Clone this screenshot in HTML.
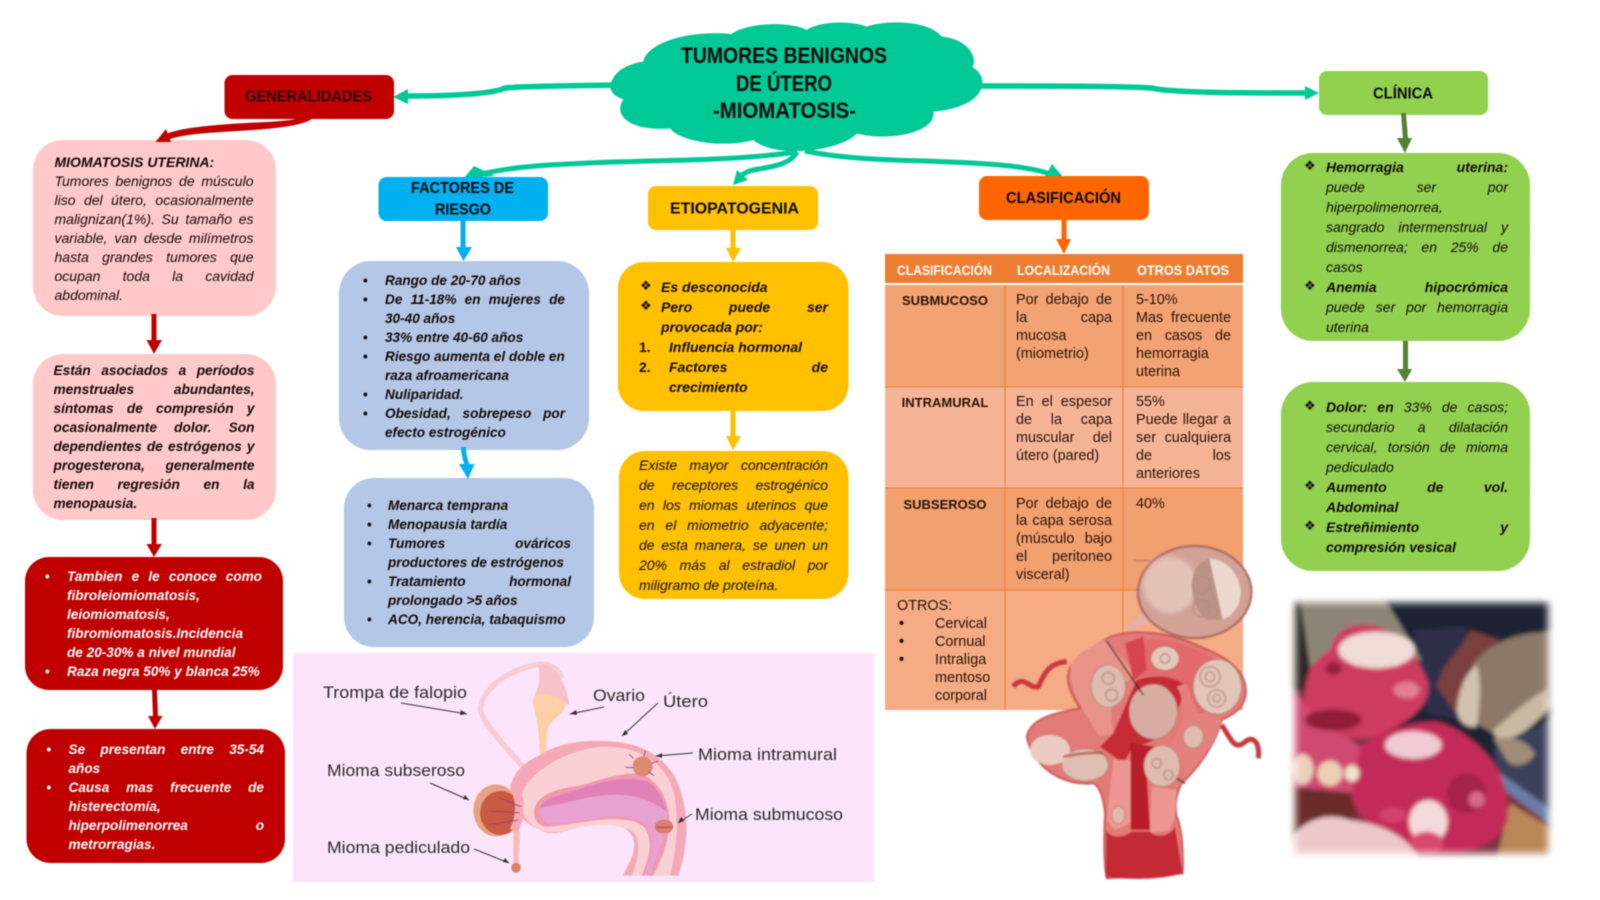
<!DOCTYPE html>
<html lang="es"><head><meta charset="utf-8"><title>Tumores benignos de útero</title>
<style>
html,body{margin:0;padding:0;background:#fff}
#page{position:relative;width:1600px;height:900px;overflow:hidden;background:#fff;font-family:"Liberation Sans",sans-serif;filter:blur(.45px)}
svg.base{position:absolute;left:0;top:0}
svg text{font-family:"Liberation Sans",sans-serif}
.t{position:absolute;font-size:14px;color:#140c08}
.t p{margin:0;white-space:nowrap;position:relative}
.t p.j{text-align:justify;text-align-last:justify}
.bi{font-weight:bold;font-style:italic}
.it{font-style:italic}
.k{position:absolute;font-style:normal;font-weight:bold}
.d{font-family:"DejaVu Sans",sans-serif;font-size:13px;font-style:normal;font-weight:normal}
.w{color:#fff}
.tb{font-size:14.4px;line-height:17.9px;color:#2a1408}
.tb b{font-weight:bold;font-size:13px}
</style></head><body><div id="page">
<svg class="base" width="1600" height="900" viewBox="0 0 1600 900" xmlns="http://www.w3.org/2000/svg">
<defs>
<filter id="b1" x="-10%" y="-10%" width="120%" height="120%"><feGaussianBlur stdDeviation="2.500"/></filter>
<filter id="b4" x="-10%" y="-10%" width="120%" height="120%"><feGaussianBlur stdDeviation="6"/></filter>
<filter id="b5" x="-40%" y="-40%" width="180%" height="180%"><feGaussianBlur stdDeviation="22"/></filter>
<filter id="b2" x="-20%" y="-20%" width="140%" height="140%"><feGaussianBlur stdDeviation="12"/></filter>
<mask id="fe" maskUnits="userSpaceOnUse" x="0" y="0" width="900" height="900"><rect x="46" y="38" width="758" height="752" fill="#fff" filter="url(#b2)"/></mask>
</defs>

<!-- panel -->
<rect x="293" y="653" width="581" height="229" fill="#fce5fb"/>

<!-- teal connectors -->
<g fill="none" stroke="#00c896" stroke-width="5.500">
<path d="M615 85 C560 86 520 86 505 88 C490 95 440 96 405 96"/>
<path d="M980 86 C1050 86 1120 86 1152 88 C1170 93 1250 93 1308 93"/>
<path d="M797 152 C740 160 680 160 612 162 C560 164 510 166 478 175" stroke-width="5"/>
<path d="M797 152 C790 165 770 167 753 170 C745 172 740 176 737 180" stroke-width="5"/>
<path d="M805 151 C840 158 880 160 927 161 C980 163 1025 165 1050 174" stroke-width="5"/>
</g>
<g fill="#00c896">
<path d="M393 97 L408 89 L408 104Z"/>
<path d="M1319 93 L1305 86 L1305 100Z"/>
<path d="M464 178 L474 166 L495 176Z"/>
<path d="M733 185 L737 170 L748 180Z"/>
<path d="M1052 164 L1063 177 L1045 177Z"/>
</g>

<!-- cloud -->
<g transform="translate(600,10) scale(.33333)">
<path fill="#00c896" d="M32 225 C40 180 90 160 130 155 C140 100 260 60 395 72 C440 38 570 32 620 60 C660 32 760 32 800 50 C860 28 990 32 1025 80 C1090 85 1135 130 1118 172 C1170 200 1165 290 1000 305 C1010 370 860 395 770 370 C730 420 530 450 460 390 C370 415 240 395 210 355 C100 365 35 320 70 268 C45 260 28 245 32 225Z"/>
</g>

<!-- boxes -->
<rect x="224.500" y="75" width="169.500" height="44" rx="8" fill="#c00000"/>
<rect x="378.500" y="177" width="169.500" height="44" rx="8" fill="#00b0f0"/>
<rect x="648" y="186" width="170" height="44" rx="8" fill="#ffc000"/>
<rect x="979" y="176" width="170" height="44" rx="8" fill="#ff6600"/>
<rect x="1319" y="71" width="169" height="44" rx="8" fill="#92d050"/>

<rect x="33" y="140" width="243" height="176" rx="30" fill="#ffc9c9"/>
<rect x="33" y="354" width="243" height="166" rx="30" fill="#ffc9c9"/>
<rect x="25" y="557" width="258" height="133" rx="24" fill="#c00000"/>
<rect x="26.500" y="729" width="258.500" height="134" rx="24" fill="#c00000"/>
<rect x="339" y="261" width="250" height="189" rx="32" fill="#b4c7e7"/>
<rect x="344" y="478" width="250" height="169" rx="30" fill="#b4c7e7"/>
<rect x="618" y="262" width="230.500" height="149" rx="26" fill="#ffc000"/>
<rect x="619" y="451" width="229.500" height="148" rx="26" fill="#ffc000"/>
<rect x="1281" y="153" width="249" height="188" rx="32" fill="#92d050"/>
<rect x="1281" y="382" width="249" height="189" rx="32" fill="#92d050"/>

<!-- connectors coloured -->
<path d="M296 119 L312 119 C295 130 240 130 196 134 C180 136 172 138 165 141 L160 137 C172 130 190 127 230 124 C260 122 280 122 296 119Z" fill="#c00000"/>
<path d="M155.500 142 L166 129 L171 142Z" fill="#c00000"/>
<g fill="#c00000">
<rect x="151.500" y="314" width="5" height="27"/><path d="M146.500 340 L162 340 L154 354Z"/>
<rect x="151.500" y="518" width="5" height="27"/><path d="M146.500 544 L162 544 L154 557Z"/>
<path d="M152 690 L157 690 L158 717 L153 717Z"/><path d="M148 716 L162.500 716 L155 729Z"/>
</g>
<g fill="#00b0f0">
<rect x="460.500" y="221" width="5" height="27"/><path d="M456 247 L472 247 L463.500 261Z"/>
<path d="M461 447 L466 447 C466 455 468 460 470 466 L465 466 C463 460 461 455 461 447Z"/><path d="M459 464 L474.500 464 L468 479Z"/>
</g>
<g fill="#ffc000">
<rect x="730.500" y="230" width="5" height="19"/><path d="M726 248 L741 248 L733 262Z"/>
<rect x="730.500" y="411" width="5" height="26"/><path d="M726 436 L741 436 L733 450Z"/>
</g>
<g fill="#ff6600"><rect x="1061.500" y="220" width="5" height="20"/><path d="M1056 239 L1071 239 L1064 254Z"/></g>
<g fill="#548235">
<path d="M1401 113 L1406 113 L1408 139 L1403 139Z"/><path d="M1397 138 L1412 138 L1405 153Z"/>
<rect x="1403" y="341" width="5" height="29"/><path d="M1397 369 L1412 369 L1405 382Z"/>
</g>

<!-- table -->
<rect x="885" y="254" width="358" height="29" fill="#ed7d31"/>
<rect x="885" y="285" width="358" height="102" fill="#f3a273"/>
<rect x="885" y="387" width="358" height="101" fill="#f6b497"/>
<rect x="885" y="488" width="358" height="102" fill="#f3a06f"/>
<rect x="885" y="590" width="358" height="120" fill="#f5ab84"/>
<g stroke="#ed7d31" stroke-width="1" fill="none">
<path d="M1005 285V710M1123 285V710M885 387H1243M885 488H1243M885 590H1243"/>
</g>

<!-- uterus illustration -->
<g transform="translate(460,655) scale(.33333)">
<path d="M200 350 C140 275 70 210 62 165 C60 110 140 40 240 28 C270 28 295 40 305 70" fill="none" stroke="#f8ccd3" stroke-width="17"/>
<path d="M235 28 C280 20 320 80 328 150 L222 125 C240 90 240 60 235 28Z" fill="#f6c3ca"/>
<path d="M222 125 C250 105 300 120 316 150 C310 185 270 190 262 225 L258 300 L240 300 L234 215 C230 180 215 150 222 125Z" fill="#fccfa6"/>
<path d="M150 395 C165 345 195 320 240 300 C290 265 370 255 430 258 C540 258 640 310 665 420 C690 500 680 590 655 662 L488 662 C510 620 530 590 520 550 C505 510 450 500 380 510 C330 520 290 545 250 530 C200 510 170 480 160 440Z" fill="#f4aab6"/>
<path d="M185 420 C210 340 340 280 430 275 C540 272 630 330 645 430 C655 500 650 590 630 662 L515 662 C535 610 540 580 530 545 C510 510 440 505 370 515 C320 525 270 545 230 520 C195 500 175 460 185 420Z" fill="#fad0d5"/>
<path d="M222 470 C225 430 270 405 340 395 C400 385 460 355 530 355 C590 365 625 430 628 490 C630 560 600 620 580 662 L545 662 C570 600 580 560 555 520 C530 490 470 490 410 495 C340 505 290 515 255 515 C235 510 222 495 222 470Z" fill="#f09aae"/>
<path d="M240 458 C250 425 330 415 380 395 C440 375 510 365 560 378 C590 395 610 430 620 470 C570 430 510 415 440 420 C370 425 300 450 240 458Z" fill="#e082b8"/>
<path d="M240 460 C300 452 370 425 440 420 C510 415 570 430 620 470 C622 540 590 610 565 662 L550 662 C575 600 590 560 560 515 C530 480 470 480 400 490 C340 500 290 510 262 505 C245 495 236 480 240 460Z" fill="#e8a2d2"/>
<ellipse cx="108" cy="466" rx="68" ry="78" fill="#e8a284"/>
<ellipse cx="122" cy="474" rx="62" ry="66" fill="#c95b42"/>
<path d="M180 400 C195 440 195 490 175 530 L165 540 L150 520 C170 480 170 440 150 400Z" fill="#f4aab6"/>
<circle cx="548" cy="334" r="30" fill="#dd8a6e"/>
<ellipse cx="612" cy="515" rx="28" ry="21" fill="#d9806a"/>
<path d="M160 530 L180 530 L176 620 C190 640 180 655 168 655 C155 655 148 640 160 620Z" fill="#f5bcbc"/>
<circle cx="168" cy="638" r="14" fill="#d9806a"/>
<g stroke="#a03080" stroke-width="2.500" fill="none">
<path d="M182 455 L118 428M178 473 L85 468M175 495 L85 510M520 310 L508 298M552 305 L556 286M575 325 L594 318M520 338 L497 337M565 350 L582 362M590 517 L636 517"/>
</g>
</g>

<!-- label arrows -->
<g stroke="#333" stroke-width="1" fill="none">
<path d="M401 703 L467 714M604 707 L570 714M658 703 L622 736M693 753 L656 756M430 783 L469 800M474 849 L509 863M692 814 L678 823"/>
</g>
<g fill="#333">
<path d="M467 714 L461 710 L460 715Z"/><path d="M570 714 L576 710 L577 715Z"/><path d="M622 736 L625 730 L628 734Z"/>
<path d="M656 756 L662 753 L662 758Z"/><path d="M469 800 L463 799 L465 795Z"/><path d="M509 863 L503 862 L505 858Z"/><path d="M678 823 L681 817 L684 821Z"/>
</g>

<!-- fibroid illustration -->
<g transform="translate(1000,530) scale(.33333)" filter="url(#b1)">
<path d="M400 92 H450" stroke="#a07060" stroke-width="3"/>
<path d="M40 470 C70 430 90 480 115 470 C130 440 140 400 200 395" fill="none" stroke="#c8383e" stroke-width="15"/>
<path d="M665 585 C690 620 700 660 730 640 C760 610 780 640 775 685" fill="none" stroke="#c8383e" stroke-width="15"/>
<path d="M370 300 C410 265 430 240 470 230 L490 290 C450 270 420 290 395 300Z" fill="#e8b0a5"/>
<path d="M320 325 C400 290 520 310 600 350 C680 380 735 420 738 480 C740 530 700 555 665 570 C650 640 590 720 545 760 C525 800 525 830 530 860 C550 900 550 1000 548 1030 L320 1045 C310 1000 312 900 315 850 C310 800 300 770 280 760 C200 770 100 720 80 620 C90 570 150 550 240 535 C200 470 180 420 250 370Z" fill="#e27a78" stroke="#c4504e" stroke-width="5"/>
<path d="M320 325 C280 345 240 375 215 395 C200 450 230 520 300 620 L340 610 C320 530 350 450 420 440 C380 400 340 360 320 325Z" fill="#e99488"/>
<path d="M375 340 C400 320 520 320 600 365 C660 390 690 420 700 440 L600 560 L560 470 C520 440 470 430 430 440 L400 450Z" fill="#e2696c"/>
<path d="M375 340 L430 320 L440 420 L400 450Z" fill="#d6444f"/>
<path d="M410 450 C470 430 530 440 560 470 C530 540 520 610 440 640 L400 650 L370 700 L300 650 L340 610Z" fill="#c62a36"/>
<path d="M530 470 C560 520 560 600 500 650 C540 680 560 710 545 755 C600 700 650 640 665 570 L590 545 L560 460Z" fill="#e5807f"/>
<path d="M340 690 L395 690 L392 880 L345 900 L320 870Z" fill="#ee9693"/>
<path d="M455 770 L530 780 L525 860 L510 900 L450 910Z" fill="#ee9693"/>
<path d="M392 640 L470 650 L440 730 L450 900 L392 900Z" fill="#b91c2a"/>
<path d="M318 900 C330 925 370 925 395 905 L450 905 C470 925 510 920 525 890 L548 1030 C480 1050 380 1050 318 1040Z" fill="#c42a35"/>
<ellipse cx="584" cy="186" rx="170" ry="138" fill="#d3a297" stroke="#a96c60" stroke-width="7"/>
<ellipse cx="510" cy="165" rx="80" ry="85" fill="#e3c2b8" filter="url(#b4)"/>
<path d="M628 85 C690 90 735 150 718 215 C710 240 690 262 668 268 C650 200 640 140 628 85Z" fill="#ecd8cd"/>
<path d="M600 100 L628 85 L668 268 L620 270 C570 225 560 140 600 100Z" fill="#bb9386"/>
<g fill="#dfbcae" stroke="#b88a7a" stroke-width="3">
<ellipse cx="325" cy="468" rx="52" ry="64"/>
<ellipse cx="495" cy="385" rx="42" ry="36" fill="#e6c8bb"/>
<ellipse cx="652" cy="470" rx="72" ry="82" fill="#e2c6b8"/>
<ellipse cx="460" cy="545" rx="72" ry="82" fill="#d8aea3"/>
<ellipse cx="580" cy="620" rx="30" ry="34"/>
<ellipse cx="486" cy="708" rx="54" ry="62"/>
<ellipse cx="255" cy="705" rx="70" ry="48" fill="#e0beb2"/>
<ellipse cx="150" cy="660" rx="60" ry="45" fill="#ecccc2" stroke="none"/>
<ellipse cx="355" cy="855" rx="20" ry="26"/>
</g>
<g fill="none" stroke="#b58a7c" stroke-width="5" opacity=".75">
<circle cx="630" cy="440" r="30"/><circle cx="630" cy="440" r="14"/><circle cx="650" cy="505" r="26"/><circle cx="650" cy="505" r="11"/>
<circle cx="325" cy="445" r="18"/><circle cx="335" cy="495" r="18"/><circle cx="605" cy="165" r="26"/><circle cx="605" cy="235" r="26"/>
<circle cx="470" cy="700" r="14"/><circle cx="505" cy="735" r="14"/><circle cx="495" cy="385" r="14"/>
<path d="M190 680 C240 670 280 665 310 670" stroke="#b0524c" stroke-width="8"/>
</g>
<path d="M318 330 L430 495M530 745 L555 760" stroke="#1c1010" stroke-width="4" fill="none"/>
</g>

<!-- photo -->
<g transform="translate(1280,590) scale(.33333)" mask="url(#fe)">
<g filter="url(#b4)">
<rect x="20" y="20" width="810" height="790" fill="#7a3040"/>
<rect x="300" y="20" width="530" height="560" fill="#1f2030"/>
<path d="M400 120 L560 110 L540 390 L440 370Z" fill="#2e2e48"/>
<rect x="20" y="20" width="70" height="280" fill="#2d2624"/>
<path d="M60 20 L310 20 L425 210 L90 230Z" fill="#8c8576"/>
<path d="M640 480 L830 380 L830 700 L660 560Z" fill="#3b3f5a"/>
<path d="M655 545 L830 670 L830 720 L680 605Z" fill="#6d7ca4"/>
<path d="M690 640 L830 725 L830 810 L650 810Z" fill="#b98659"/>
<path d="M470 290 C490 210 540 190 570 120 L660 150 L560 240 L530 370Z" fill="#7a3f3c"/>
<path d="M580 220 C640 150 720 125 830 125 L830 340 C760 370 700 400 640 430 L590 400Z" fill="#8b7869"/>
<path d="M530 360 C535 300 560 240 590 225 C605 270 600 340 590 410 C565 415 535 400 530 360Z" fill="#d2c1b0"/>
<path d="M640 420 C690 380 750 320 800 300 L810 350 C770 400 720 440 680 448 C655 448 640 440 640 420Z" fill="#c9b9a2"/>
<path d="M640 445 C690 440 730 440 765 490 C750 525 700 540 680 510Z" fill="#a08b79"/>
<path d="M20 290 L240 470 L230 620 L20 590Z" fill="#cf4a70"/>
<path d="M20 590 L230 610 L220 730 L20 730Z" fill="#6a2a2a"/>
<path d="M90 240 C110 200 150 180 150 180 C165 120 210 90 300 110 C370 140 425 220 445 280 C450 330 420 375 330 420 C290 440 260 448 240 445 C170 440 100 400 75 330 C72 290 80 260 90 240Z" fill="#cd3a60"/>
<ellipse cx="290" cy="180" rx="115" ry="55" fill="#f1dcd7"/>
<ellipse cx="160" cy="235" rx="25" ry="20" fill="#97243f"/>
<ellipse cx="160" cy="390" rx="85" ry="32" fill="#8f1e38"/>
<ellipse cx="380" cy="300" rx="40" ry="25" fill="#e27d92"/>
<path d="M240 470 C300 420 400 395 470 395 C550 415 630 490 660 550 C680 610 690 660 680 700 C650 770 540 800 440 795 C340 760 230 700 215 620Z" fill="#c42a58"/>
<ellipse cx="400" cy="465" rx="85" ry="42" fill="#f0cbd3"/>
<ellipse cx="560" cy="610" rx="60" ry="60" fill="#a52048"/>
<ellipse cx="590" cy="628" rx="24" ry="24" fill="#d96a8a"/>
<path d="M20 770 C50 700 130 660 210 690 C290 700 380 730 420 810 L20 810Z" fill="#edc8ca"/>
<ellipse cx="340" cy="675" rx="40" ry="22" fill="#d6436e"/>
<ellipse cx="445" cy="695" rx="58" ry="65" fill="#f5dadc"/>
<ellipse cx="440" cy="760" rx="50" ry="35" fill="#d84a6e"/>
<ellipse cx="68" cy="538" rx="32" ry="46" fill="#ecd0b8"/>
<ellipse cx="150" cy="550" rx="38" ry="38" fill="#eccfb4"/>
<ellipse cx="216" cy="550" rx="22" ry="25" fill="#efe2cf"/>
</g></g>

<!-- single-line labels -->
<g font-weight="bold" fill="#0c0c0c">
<text x="681" y="63" font-size="22" textLength="206" lengthAdjust="spacingAndGlyphs">TUMORES BENIGNOS</text>
<text x="736" y="91" font-size="22" textLength="96" lengthAdjust="spacingAndGlyphs">DE ÚTERO</text>
<text x="713" y="118" font-size="22" textLength="143" lengthAdjust="spacingAndGlyphs">-MIOMATOSIS-</text>
<text x="245" y="101.500" font-size="16" textLength="127" lengthAdjust="spacingAndGlyphs" fill="#2a0505">GENERALIDADES</text>
<text x="411" y="193" font-size="16" textLength="103" lengthAdjust="spacingAndGlyphs">FACTORES DE</text>
<text x="435" y="214.500" font-size="16" textLength="56" lengthAdjust="spacingAndGlyphs">RIESGO</text>
<text x="670" y="213.500" font-size="16" textLength="129" lengthAdjust="spacingAndGlyphs">ETIOPATOGENIA</text>
<text x="1006" y="203" font-size="16" textLength="115" lengthAdjust="spacingAndGlyphs">CLASIFICACIÓN</text>
<text x="1373" y="98.500" font-size="16" textLength="60" lengthAdjust="spacingAndGlyphs">CLÍNICA</text>
</g>
<g font-weight="bold" fill="#fff" font-size="13.500">
<text x="897" y="275" textLength="95" lengthAdjust="spacingAndGlyphs">CLASIFICACIÓN</text>
<text x="1017" y="275" textLength="93" lengthAdjust="spacingAndGlyphs">LOCALIZACIÓN</text>
<text x="1137" y="275" textLength="92" lengthAdjust="spacingAndGlyphs">OTROS DATOS</text>
</g>
<g fill="#2b2b2b" font-size="17">
<text x="323" y="698" textLength="144" lengthAdjust="spacingAndGlyphs">Trompa de falopio</text>
<text x="593" y="701" textLength="52" lengthAdjust="spacingAndGlyphs">Ovario</text>
<text x="663" y="707" textLength="45" lengthAdjust="spacingAndGlyphs">Útero</text>
<text x="698" y="760" textLength="139" lengthAdjust="spacingAndGlyphs">Mioma intramural</text>
<text x="327" y="776" textLength="138" lengthAdjust="spacingAndGlyphs">Mioma subseroso</text>
<text x="695" y="820" textLength="148" lengthAdjust="spacingAndGlyphs">Mioma submucoso</text>
<text x="327" y="853" textLength="143" lengthAdjust="spacingAndGlyphs">Mioma pediculado</text>
</g>
</svg>

<!-- pink -->
<div class="t it" style="left:54.500px;top:152.500px;width:199px;line-height:19px">
<p class="bi">MIOMATOSIS UTERINA:</p>
<p class="j">Tumores benignos de músculo</p>
<p class="j">liso del útero, ocasionalmente</p>
<p class="j">malignizan(1%). Su tamaño es</p>
<p class="j">variable, van desde milímetros</p>
<p class="j">hasta grandes tumores que</p>
<p class="j">ocupan toda la cavidad</p>
<p>abdominal.</p>
</div>
<div class="t bi" style="left:53.500px;top:361px;width:201px;line-height:19px;font-size:13.700px">
<p class="j">Están asociados a períodos</p>
<p class="j">menstruales abundantes,</p>
<p class="j">síntomas de compresión y</p>
<p class="j">ocasionalmente dolor. Son</p>
<p class="j">dependientes de estrógenos y</p>
<p class="j">progesterona, generalmente</p>
<p class="j">tienen regresión en la</p>
<p>menopausia.</p>
</div>

<!-- red -->
<div class="t bi w" style="left:67px;top:567px;width:195px;line-height:19px;font-size:13.600px">
<p class="j"><span class="k" style="left:-22px">•</span>Tambien e le conoce como</p>
<p>fibroleiomiomatosis,</p>
<p>leiomiomatosis,</p>
<p>fibromiomatosis.Incidencia</p>
<p>de 20-30% a nivel mundial</p>
<p><span class="k" style="left:-22px">•</span>Raza negra 50% y blanca 25%</p>
</div>
<div class="t bi w" style="left:68.500px;top:739.500px;width:195.500px;line-height:19px;font-size:13.600px">
<p class="j"><span class="k" style="left:-22px">•</span>Se presentan entre 35-54</p>
<p>años</p>
<p class="j"><span class="k" style="left:-22px">•</span>Causa mas frecuente de</p>
<p>histerectomía,</p>
<p class="j">hiperpolimenorrea o</p>
<p>metrorragias.</p>
</div>

<!-- blue -->
<div class="t bi" style="left:385px;top:270.500px;width:180px;line-height:19px;font-size:13.600px">
<p><span class="k" style="left:-22px">•</span>Rango de 20-70 años</p>
<p class="j"><span class="k" style="left:-22px">•</span>De 11-18% en mujeres de</p>
<p>30-40 años</p>
<p><span class="k" style="left:-22px">•</span>33% entre 40-60 años</p>
<p><span class="k" style="left:-22px">•</span>Riesgo aumenta el doble en</p>
<p>raza afroamericana</p>
<p><span class="k" style="left:-22px">•</span>Nuliparidad.</p>
<p class="j"><span class="k" style="left:-22px">•</span>Obesidad, sobrepeso por</p>
<p>efecto estrogénico</p>
</div>
<div class="t bi" style="left:388px;top:495.500px;width:183px;line-height:19px;font-size:13.600px">
<p><span class="k" style="left:-21px">•</span>Menarca temprana</p>
<p><span class="k" style="left:-21px">•</span>Menopausia tardía</p>
<p class="j"><span class="k" style="left:-21px">•</span>Tumores ováricos</p>
<p>productores de estrógenos</p>
<p class="j"><span class="k" style="left:-21px">•</span>Tratamiento hormonal</p>
<p>prolongado &gt;5 años</p>
<p><span class="k" style="left:-21px">•</span>ACO, herencia, tabaquismo</p>
</div>

<!-- yellow -->
<div class="t bi" style="left:661px;top:276.500px;width:167px;line-height:20px">
<p><span class="k d" style="left:-21px">❖</span>Es desconocida</p>
<p class="j"><span class="k d" style="left:-21px">❖</span>Pero puede ser</p>
<p>provocada por:</p>
<p style="margin-left:8px"><span class="k" style="left:-30px">1.</span>Influencia hormonal</p>
<p class="j" style="margin-left:8px"><span class="k" style="left:-30px">2.</span>Factores de</p>
<p style="margin-left:8px">crecimiento</p>
</div>
<div class="t it" style="left:639px;top:455px;width:189px;line-height:20px">
<p class="j">Existe mayor concentración</p>
<p class="j">de receptores estrogénico</p>
<p class="j">en los miomas uterinos que</p>
<p class="j">en el miometrio adyacente;</p>
<p class="j">de esta manera, se unen un</p>
<p class="j">20% más al estradiol por</p>
<p>miligramo de proteína.</p>
</div>

<!-- green -->
<div class="t it" style="left:1326px;top:157px;width:182px;line-height:20px">
<p class="j bi"><span class="k d" style="left:-22px">❖</span>Hemorragia uterina:</p>
<p class="j">puede ser por</p>
<p>hiperpolimenorrea,</p>
<p class="j">sangrado intermenstrual y</p>
<p class="j">dismenorrea; en 25% de</p>
<p>casos</p>
<p class="j bi"><span class="k d" style="left:-22px">❖</span>Anemia hipocrómica</p>
<p class="j">puede ser por hemorragia</p>
<p>uterina</p>
</div>
<div class="t it" style="left:1326px;top:397px;width:182px;line-height:20px">
<p class="j"><span class="k d" style="left:-22px">❖</span><b>Dolor: en</b> 33% de casos;</p>
<p class="j">secundario a dilatación</p>
<p class="j">cervical, torsión de mioma</p>
<p>pediculado</p>
<p class="j bi"><span class="k d" style="left:-22px">❖</span>Aumento de vol.</p>
<p class="bi">Abdominal</p>
<p class="j bi"><span class="k d" style="left:-22px">❖</span>Estreñimiento y</p>
<p class="bi">compresión vesical</p>
</div>

<!-- table text -->
<div class="t tb" style="left:885px;top:292px;width:120px;text-align:center"><b>SUBMUCOSO</b></div>
<div class="t tb" style="left:885px;top:394px;width:120px;text-align:center"><b>INTRAMURAL</b></div>
<div class="t tb" style="left:885px;top:496px;width:120px;text-align:center"><b>SUBSEROSO</b></div>
<div class="t tb" style="left:897px;top:598px;width:105px">
<p>OTROS:</p>
<p style="padding-left:38px"><span class="k" style="left:2px">•</span>Cervical</p>
<p style="padding-left:38px"><span class="k" style="left:2px">•</span>Cornual</p>
<p style="padding-left:38px"><span class="k" style="left:2px">•</span>Intraliga</p>
<p style="padding-left:38px">mentoso</p>
<p style="padding-left:38px">corporal</p>
</div>
<div class="t tb" style="left:1016px;top:292px;width:96px">
<p class="j">Por debajo de</p><p class="j">la capa</p><p>mucosa</p><p>(miometrio)</p>
</div>
<div class="t tb" style="left:1016px;top:394px;width:96px">
<p class="j">En el espesor</p><p class="j">de la capa</p><p class="j">muscular del</p><p>útero (pared)</p>
</div>
<div class="t tb" style="left:1016px;top:495.500px;width:96px">
<p class="j">Por debajo de</p><p class="j">la capa serosa</p><p class="j">(músculo bajo</p><p class="j">el peritoneo</p><p>visceral)</p>
</div>
<div class="t tb" style="left:1136px;top:292px;width:95px">
<p>5-10%</p><p class="j">Mas frecuente</p><p class="j">en casos de</p><p>hemorragia</p><p>uterina</p>
</div>
<div class="t tb" style="left:1136px;top:394px;width:95px">
<p>55%</p><p class="j">Puede llegar a</p><p class="j">ser cualquiera</p><p class="j">de los</p><p>anteriores</p>
</div>
<div class="t tb" style="left:1136px;top:495.500px;width:95px"><p>40%</p></div>
</div></body></html>
